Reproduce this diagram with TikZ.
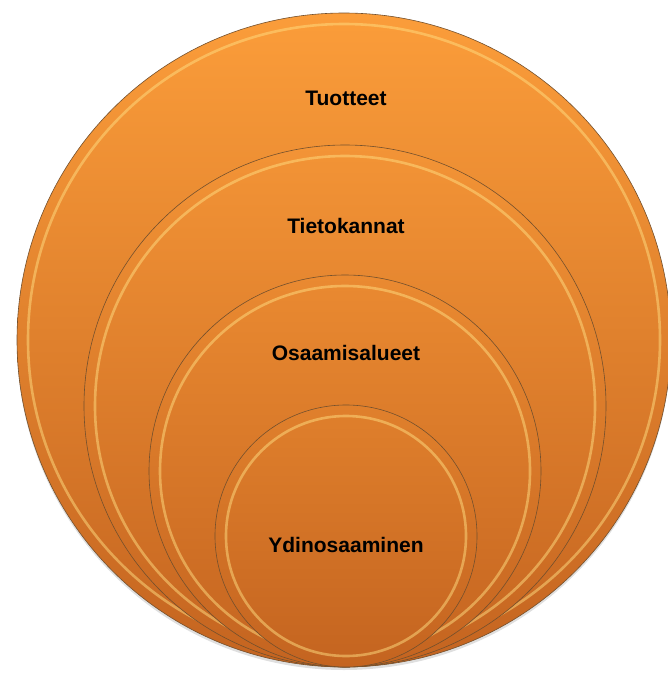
\documentclass[tikz,border=0pt]{standalone}
\usepackage{fontspec}
\setmainfont{Liberation Sans}
\usepackage{tikz}
\usepackage{xcolor}
\usetikzlibrary{positioning,shadows}

\definecolor{orTop}{RGB}{251,157,58}
\definecolor{orTopB}{RGB}{243,148,54}
\definecolor{orTopC}{RGB}{234,138,49}
\definecolor{orTopD}{RGB}{224,128,44}
\definecolor{orBot}{RGB}{196,100,32}
\definecolor{rimEdge}{RGB}{115,80,45}
\definecolor{rimGlow}{RGB}{255,222,130}

\tikzset{
  disc/.style={circle, inner sep=0pt, draw=rimEdge, line width=0.6pt,
    top color=#1, bottom color=orBot},
  glow/.style={circle, inner sep=0pt, draw=rimGlow, line width=2.6pt, draw opacity=0.5},
  label/.style={font=\bfseries\fontsize{21}{25}\selectfont, text=black}
}

\begin{document}
\begin{tikzpicture}[x=1pt, y=-1pt]
        \useasboundingbox (0,0) rectangle (668,675);

        % Draw outer ring (Tuotteet)
        \node[disc=orTop, minimum size=654pt,
              drop shadow={shadow xshift=0pt, shadow yshift=-3pt, opacity=0.25}]
            (tuotteet) at (344,340) {};
        \node[glow, minimum size=632pt] (tuotteetRim) at (tuotteet.center) {};

        % Draw second ring (Tietokannat)
        \node[disc=orTopB, minimum size=522pt] (tietokannat) at (345,406) {};
        \node[glow, minimum size=500pt] (tietokannatRim) at (tietokannat.center) {};

        % Draw third ring (Osaamisalueet)
        \node[disc=orTopC, minimum size=392pt] (osaamis) at (345,471) {};
        \node[glow, minimum size=370pt] (osaamisRim) at (osaamis.center) {};

        % Draw core ring (Ydinosaaminen)
        \node[disc=orTopD, minimum size=262pt] (ydin) at (346,536) {};
        \node[glow, minimum size=240pt] (ydinRim) at (ydin.center) {};

        % Labels
        \node[label] (tuotteetText) at (346,98) {Tuotteet};
        \node[label] (tietokannatText) at (346,226) {Tietokannat};
        \node[label] (osaamisText) at (346,353) {Osaamisalueet};
        \node[label] (ydinText) at (346,545) {Ydinosaaminen};
    \end{tikzpicture}
\end{document}
